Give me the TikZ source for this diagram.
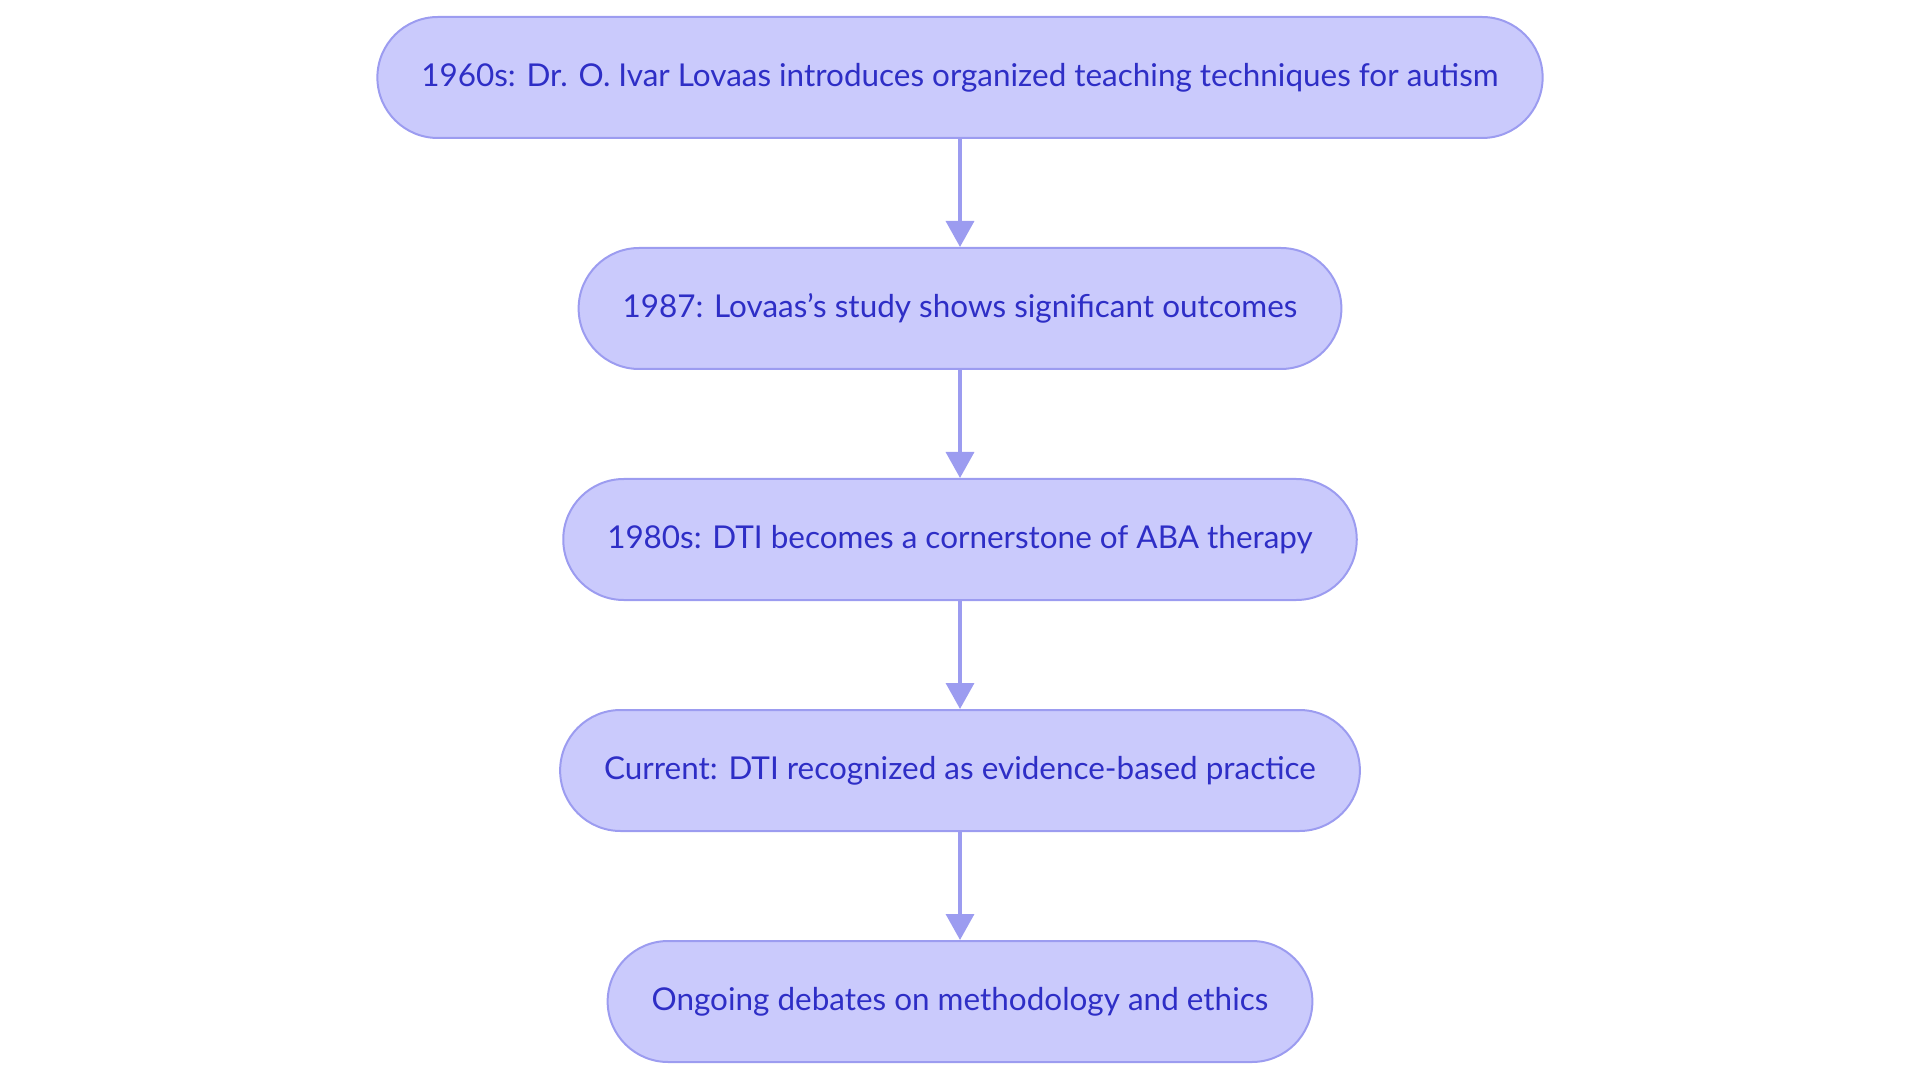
\documentclass[tikz,border=0pt]{standalone}
\usepackage{fontspec}
\setmainfont{Lato}
\usepackage{tikz}
\usetikzlibrary{positioning, arrows.meta}

\definecolor{boxfill}{HTML}{CACAFC}
\definecolor{boxline}{HTML}{9C9CF0}
\definecolor{boxtext}{HTML}{2E2EC6}

\tikzset{
    event/.style={draw=boxline, fill=boxfill, text=boxtext, line width=0.2mm,
        rounded corners=6.05mm, minimum height=12.1mm, inner xsep=4.4mm,
        font=\fontsize{8.95pt}{11pt}\selectfont},
    link/.style={draw=boxline, line width=0.35mm, -{Triangle[width=2.8mm,length=2.6mm]}}
}

\begin{document}
\begin{tikzpicture}[node distance=10.8mm]
            \useasboundingbox (0,0) rectangle (19.2,-10.83);
            \node[event] (lovaas) at (9.6,-0.775) {1960s: Dr. O. Ivar Lovaas introduces organized teaching techniques for autism};
            \node[event, below=of lovaas] (study) {1987: Lovaas’s study shows significant outcomes};
            \node[event, below=of study] (cornerstone) {1980s: DTI becomes a cornerstone of ABA therapy};
            \node[event, below=of cornerstone] (current) {Current: DTI recognized as evidence-based practice};
            \node[event, below=of current] (debates) {Ongoing debates on methodology and ethics};
            \draw[link] (lovaas) -- (study);
            \draw[link] (study) -- (cornerstone);
            \draw[link] (cornerstone) -- (current);
            \draw[link] (current) -- (debates);
        \end{tikzpicture}
\end{document}
